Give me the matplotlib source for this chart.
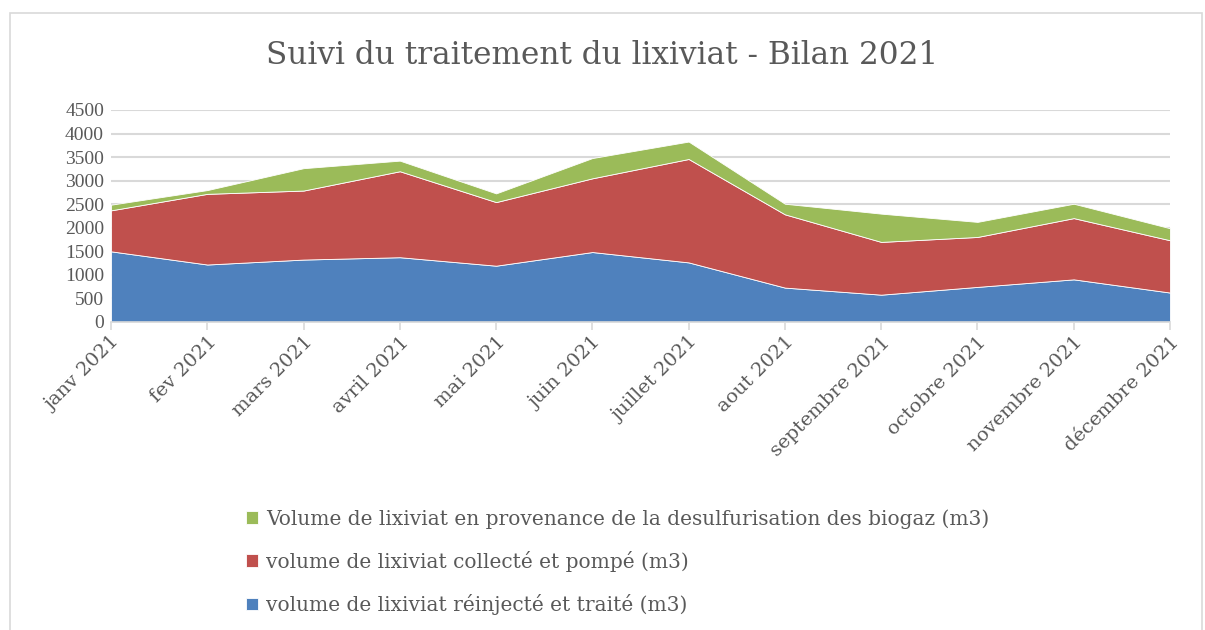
import matplotlib.pyplot as plt
from matplotlib.patches import Rectangle

months = ['janv 2021', 'fev 2021', 'mars 2021', 'avril 2021', 'mai 2021', 'juin 2021',
          'juillet 2021', 'aout 2021', 'septembre 2021', 'octobre 2021', 'novembre 2021',
          'décembre 2021']
reinjecte = [1500, 1220, 1325, 1375, 1195, 1485, 1265, 730, 580, 745, 905, 625]
collecte = [870, 1500, 1465, 1825, 1350, 1565, 2195, 1555, 1120, 1060, 1300, 1110]
desulfu = [120, 80, 475, 225, 185, 430, 370, 225, 600, 320, 305, 255]

labels = ['volume de lixiviat réinjecté et traité (m3)',
          'volume de lixiviat collecté et pompé (m3)',
          'Volume de lixiviat en provenance de la desulfurisation des biogaz (m3)']
colors = ['#4F81BD', '#C0504D', '#9BBB59']
txt = '#595959'

plt.rcParams['font.family'] = ['DejaVu Serif']

fig = plt.figure(figsize=(12.05, 6.3), dpi=100)
fig.patches.append(Rectangle((10 / 1205, -0.1), 1192 / 1205, 1.1 - 13 / 630,
                             transform=fig.transFigure, fill=False,
                             edgecolor='#D9D9D9', linewidth=1.2))
ax = fig.add_axes([111 / 1205, 1 - 322 / 630, (1170 - 111) / 1205, (322 - 110) / 630])

x = list(range(len(months)))
ax.stackplot(x, reinjecte, collecte, desulfu, colors=colors, labels=labels,
             edgecolor='white', linewidth=0.6)

ax.set_xlim(0, len(months) - 1)
ax.set_ylim(0, 4500)
ax.set_yticks(range(0, 4501, 500))
ax.yaxis.grid(True, color='#D9D9D9', linewidth=1.5)
ax.set_axisbelow(True)
for s in ['top', 'right', 'left']:
    ax.spines[s].set_visible(False)
ax.spines['bottom'].set_color('#D9D9D9')
ax.spines['bottom'].set_linewidth(1.2)
ax.tick_params(axis='y', length=0, labelcolor=txt, pad=5)
ax.tick_params(axis='x', length=6, color='#D9D9D9', width=1.2, labelcolor=txt, pad=2)
for t in ax.get_yticklabels():
    t.set_family('Liberation Serif')
    t.set_fontsize(14)
ax.set_xticks(x)
ax.set_xticklabels(months, rotation=45, ha='right', va='top', rotation_mode='anchor',
                   fontsize=14)

fig.text(0.5, 1 - 55 / 630, 'Suivi du traitement du lixiviat - Bilan 2021',
         ha='center', va='center', fontsize=22.4, color=txt)

h, l = ax.get_legend_handles_labels()
fig.legend(h[::-1], l[::-1], loc='upper left', bbox_to_anchor=(238 / 1205, 1 - 501 / 630),
           frameon=False, fontsize=14.5, labelcolor=txt, handlelength=0.6, handleheight=0.6,
           handletextpad=0.4, labelspacing=1.1, borderaxespad=0)

fig.savefig('out.png', dpi=100)
